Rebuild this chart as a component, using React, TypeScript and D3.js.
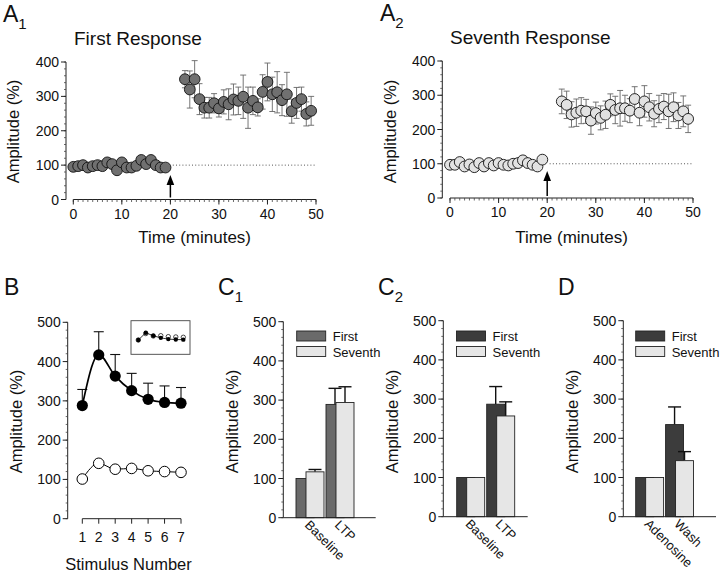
import React, { useEffect, useRef } from "react";
import * as d3 from "d3";

const FONT = "'Liberation Sans', Arial, Helvetica, sans-serif";

// Panel A1 (First Response)
const a1BaseTime = [0, 1, 2, 3, 4, 5, 6, 7, 8, 9, 10, 11, 12, 13, 14, 15, 16, 17, 18, 19];
const a1Base = [95, 97, 100, 93, 97, 100, 97, 108, 103, 85, 108, 93, 93, 98, 115, 103, 115, 100, 93, 93];
const a1BaseErr = [6, 5, 6, 5, 6, 6, 5, 7, 6, 8, 7, 6, 5, 6, 7, 6, 7, 6, 5, 5];
const a1PostTime = [23, 24, 25, 26, 27, 28, 29, 30, 31, 32, 33, 34, 35, 36, 37, 38, 39, 40, 41, 42, 43, 44, 45, 46, 47, 48, 49];
const a1Post = [350, 320, 350, 292, 267, 267, 280, 265, 284, 277, 291, 287, 299, 267, 287, 268, 313, 342, 306, 312, 289, 306, 257, 281, 292, 249, 258];
const a1PostErr = [25, 54, 54, 45, 30, 30, 28, 25, 35, 45, 45, 40, 63, 60, 40, 25, 50, 55, 50, 60, 45, 64, 35, 45, 35, 35, 42];

// Panel A2 (Seventh Response)
const a2BaseTime = [0, 1, 2, 3, 4, 5, 6, 7, 8, 9, 10, 11, 12, 13, 14, 15, 16, 17, 18, 19];
const a2Base = [97, 97, 105, 92, 98, 90, 102, 92, 102, 95, 102, 97, 95, 100, 102, 110, 102, 97, 92, 112];
const a2BaseErr = [8, 6, 6, 5, 6, 6, 7, 6, 6, 5, 6, 5, 5, 6, 6, 6, 6, 5, 6, 6];
const a2PostTime = [23, 24, 25, 26, 27, 28, 29, 30, 31, 32, 33, 34, 35, 36, 37, 38, 39, 40, 41, 42, 43, 44, 45, 46, 47, 48, 49];
const a2Post = [282, 272, 244, 249, 255, 253, 226, 248, 234, 243, 272, 257, 262, 262, 255, 289, 249, 282, 265, 246, 260, 267, 253, 265, 241, 253, 231];
const a2PostErr = [36, 40, 37, 40, 38, 35, 40, 32, 35, 40, 32, 40, 52, 38, 35, 36, 38, 46, 40, 38, 40, 38, 50, 42, 38, 45, 40];

const timeTicks = [0, 10, 20, 30, 40, 50];
const aYTicks = [0, 100, 200, 300, 400];

// Panel B
const bStim = [1, 2, 3, 4, 5, 6, 7];
const bFirst = [288, 417, 363, 326, 304, 296, 294];
const bFirstErr = [41, 59, 55, 44, 41, 42, 40];
const bSeventh = [101, 141, 126, 128, 122, 120, 118];
const bcdYTicks = [0, 100, 200, 300, 400, 500];

// Panels C1, C2, D
const c1Cats = ["Baseline", "LTP"];
const c1First = [100, 289];
const c1FirstErr = [0, 41];
const c1Seventh = [117, 294];
const c1SeventhErr = [6, 40];

const c2Cats = ["Baseline", "LTP"];
const c2First = [100, 287];
const c2FirstErr = [0, 45];
const c2Seventh = [100, 257];
const c2SeventhErr = [0, 36];

const dCats = ["Adenosine", "Wash"];
const dFirst = [100, 235];
const dFirstErr = [0, 45];
const dSeventh = [100, 143];
const dSeventhErr = [0, 23];

const legendLabels = ["First", "Seventh"];

type Sel = d3.Selection<SVGGElement, unknown, null, undefined>;

const TICK_FS = 14;

function yAxis(g: Sel, y: d3.ScaleLinear<number, number>, x: number, ticks: number[], minorStep: number) {
  const [lo, hi] = y.domain();
  g.append("line").attr("x1", x).attr("x2", x).attr("y1", y(lo)).attr("y2", y(hi))
    .attr("stroke", "#222").attr("stroke-width", 1);
  for (let v = lo; v <= hi + 1e-6; v += minorStep) {
    g.append("line").attr("x1", x - 2).attr("x2", x).attr("y1", y(v)).attr("y2", y(v))
      .attr("stroke", "#444").attr("stroke-width", 0.8);
  }
  ticks.forEach((t) => {
    g.append("line").attr("x1", x - 5).attr("x2", x).attr("y1", y(t)).attr("y2", y(t))
      .attr("stroke", "#222").attr("stroke-width", 1);
    g.append("text").attr("x", x - 7).attr("y", y(t)).attr("dy", "0.36em")
      .attr("text-anchor", "end").attr("font-size", TICK_FS).attr("font-family", FONT).attr("fill", "#111").text(t);
  });
}

function yLabel(g: Sel, x: number, cy: number, size = 16.5) {
  g.append("text").attr("transform", `translate(${x},${cy}) rotate(-90)`)
    .attr("text-anchor", "middle").attr("font-size", size).attr("font-family", FONT).attr("fill", "#111")
    .text("Amplitude (%)");
}

function panelLetter(g: Sel, x: number, y: number, letter: string, sub?: string) {
  const t = g.append("text").attr("x", x).attr("y", y).attr("font-size", 23).attr("font-family", FONT).attr("fill", "#111");
  t.append("tspan").text(letter);
  if (sub) t.append("tspan").attr("font-size", 15).attr("dy", 7).text(sub);
}

function timePanel(g: Sel, o: {
  x0: number; x1: number; yAxisX: number; yZero: number; yTop: number;
  baseT: number[]; base: number[]; baseErr: number[];
  postT: number[]; post: number[]; postErr: number[];
  fill: string; arrowTop: number; title: string; titleX: number; titleY: number;
  ylabX: number;
}) {
  const x = d3.scaleLinear().domain([0, 50]).range([o.x0, o.x1]);
  const y = d3.scaleLinear().domain([0, 400]).range([o.yZero, o.yTop]);
  yAxis(g, y, o.yAxisX, aYTicks, 20);
  g.append("line").attr("x1", x(0)).attr("x2", x(50)).attr("y1", o.yZero).attr("y2", o.yZero)
    .attr("stroke", "#222").attr("stroke-width", 1);
  d3.range(0, 51, 1).forEach((t) => {
    g.append("line").attr("x1", x(t)).attr("x2", x(t)).attr("y1", o.yZero).attr("y2", o.yZero + 2.5)
      .attr("stroke", "#444").attr("stroke-width", 0.8);
  });
  timeTicks.forEach((t) => {
    g.append("line").attr("x1", x(t)).attr("x2", x(t)).attr("y1", o.yZero).attr("y2", o.yZero + 5)
      .attr("stroke", "#222").attr("stroke-width", 1);
    g.append("text").attr("x", x(t)).attr("y", o.yZero + 19).attr("text-anchor", "middle")
      .attr("font-size", TICK_FS).attr("font-family", FONT).attr("fill", "#111").text(t);
  });
  g.append("text").attr("x", (x(0) + x(50)) / 2).attr("y", 243).attr("text-anchor", "middle")
    .attr("font-size", 17).attr("font-family", FONT).attr("fill", "#111").text("Time (minutes)");
  yLabel(g, o.ylabX, 131.5);
  g.append("text").attr("x", o.titleX).attr("y", o.titleY).attr("font-size", 19)
    .attr("font-family", FONT).attr("fill", "#111").text(o.title);
  g.append("line").attr("x1", x(20.5)).attr("x2", x(50)).attr("y1", y(100)).attr("y2", y(100))
    .attr("stroke", "#555").attr("stroke-width", 1).attr("stroke-dasharray", "1,2.2");
  const ax = x(20);
  g.append("line").attr("x1", ax).attr("x2", ax).attr("y1", o.yZero - 2).attr("y2", o.arrowTop + 6)
    .attr("stroke", "#000").attr("stroke-width", 1.5);
  g.append("path").attr("d", `M${ax - 3.8},${o.arrowTop + 10}L${ax},${o.arrowTop}L${ax + 3.8},${o.arrowTop + 10}Z`)
    .attr("fill", "#000");
  const pts = [
    ...o.baseT.map((t, i) => ({ t, v: o.base[i], e: o.baseErr[i] })),
    ...o.postT.map((t, i) => ({ t, v: o.post[i], e: o.postErr[i] })),
  ];
  pts.forEach((p) => {
    const cx = x(p.t);
    g.append("line").attr("x1", cx).attr("x2", cx).attr("y1", y(p.v - p.e)).attr("y2", y(p.v + p.e))
      .attr("stroke", "#666").attr("stroke-width", 0.9);
    [p.v - p.e, p.v + p.e].forEach((v) => {
      g.append("line").attr("x1", cx - 3).attr("x2", cx + 3).attr("y1", y(v)).attr("y2", y(v))
        .attr("stroke", "#666").attr("stroke-width", 0.9);
    });
  });
  pts.forEach((p) => {
    g.append("circle").attr("cx", x(p.t)).attr("cy", y(p.v)).attr("r", 5.4)
      .attr("fill", o.fill).attr("stroke", "#111").attr("stroke-width", 0.9);
  });
}

function barPanel(g: Sel, o: {
  yAxisX: number; yZero: number; yTop: number; bandStart: number; bandEnd: number; axisEnd: number;
  cats: string[]; first: number[]; firstErr: number[]; seventh: number[]; seventhErr: number[];
  firstFill: string; ylabX: number; legX: number;
}) {
  const y = d3.scaleLinear().domain([0, 500]).range([o.yZero, o.yTop]);
  const xb = d3.scaleBand<string>().domain(o.cats).range([o.bandStart, o.bandEnd]).paddingInner(2 / 30);
  const bw = xb.bandwidth();
  const w = bw * 18 / 28;
  const off = bw * 10 / 28;
  yAxis(g, y, o.yAxisX, bcdYTicks, 20);
  yLabel(g, o.ylabX, 421.5);
  o.cats.forEach((c, i) => {
    const x0 = xb(c)!;
    const bars = [
      { x: x0, v: o.first[i], e: o.firstErr[i], fill: o.firstFill },
      { x: x0 + off, v: o.seventh[i], e: o.seventhErr[i], fill: "#e6e6e6" },
    ];
    bars.forEach((b) => {
      const cx = b.x + w / 2;
      if (b.e > 0) {
        g.append("line").attr("x1", cx).attr("x2", cx).attr("y1", y(b.v)).attr("y2", y(b.v + b.e))
          .attr("stroke", "#111").attr("stroke-width", 1.4);
        g.append("line").attr("x1", cx - 6.5).attr("x2", cx + 6.5).attr("y1", y(b.v + b.e)).attr("y2", y(b.v + b.e))
          .attr("stroke", "#111").attr("stroke-width", 1.4);
      }
      g.append("rect").attr("x", b.x).attr("y", y(b.v)).attr("width", w).attr("height", y(0) - y(b.v))
        .attr("fill", b.fill).attr("stroke", "#222").attr("stroke-width", 0.9);
    });
    g.append("text").attr("transform", `translate(${x0 + bw / 2 - 6},${o.yZero + 8}) rotate(45)`)
      .attr("font-size", 13).attr("font-family", FONT).attr("fill", "#111").text(c);
  });
  g.append("line").attr("x1", o.yAxisX).attr("x2", o.axisEnd).attr("y1", o.yZero).attr("y2", o.yZero)
    .attr("stroke", "#222").attr("stroke-width", 1);
  const fills = [o.firstFill, "#e6e6e6"];
  legendLabels.forEach((l, i) => {
    const ly = 331 + i * 15.5;
    g.append("rect").attr("x", o.legX).attr("y", ly).attr("width", 29).attr("height", 10)
      .attr("fill", fills[i]).attr("stroke", "#222").attr("stroke-width", 0.9);
    g.append("text").attr("x", o.legX + 36).attr("y", ly + 10).attr("font-size", 13)
      .attr("font-family", FONT).attr("fill", "#111").text(l);
  });
}

export default function App() {
  const ref = useRef<SVGSVGElement>(null);
  useEffect(() => {
    const svg = d3.select(ref.current!);
    svg.selectAll("*").remove();
    const g = svg.append("g") as unknown as Sel;

    panelLetter(g, 3, 22, "A", "1");
    timePanel(g, {
      x0: 73.3, x1: 316, yAxisX: 66, yZero: 199.5, yTop: 62,
      baseT: a1BaseTime, base: a1Base, baseErr: a1BaseErr,
      postT: a1PostTime, post: a1Post, postErr: a1PostErr,
      fill: "#707070", arrowTop: 175, title: "First Response", titleX: 74, titleY: 45, ylabX: 19,
    });
    panelLetter(g, 380, 21, "A", "2");
    timePanel(g, {
      x0: 450, x1: 693, yAxisX: 442.3, yZero: 198, yTop: 61,
      baseT: a2BaseTime, base: a2Base, baseErr: a2BaseErr,
      postT: a2PostTime, post: a2Post, postErr: a2PostErr,
      fill: "#e2e2e2", arrowTop: 171, title: "Seventh Response", titleX: 450, titleY: 44, ylabX: 395.5,
    });

    // B
    panelLetter(g, 4, 295, "B");
    const bx = d3.scaleLinear().domain([1, 7]).range([82.3, 181]);
    const by = d3.scaleLinear().domain([0, 500]).range([518.7, 322.3]);
    yAxis(g, by, 67.7, bcdYTicks, 20);
    yLabel(g, 21.5, 421.5);
    g.append("line").attr("x1", bx(1)).attr("x2", bx(7)).attr("y1", by(0)).attr("y2", by(0))
      .attr("stroke", "#222").attr("stroke-width", 1);
    bStim.forEach((s) => {
      g.append("line").attr("x1", bx(s)).attr("x2", bx(s)).attr("y1", by(0)).attr("y2", by(0) + 5)
        .attr("stroke", "#222").attr("stroke-width", 1);
      g.append("text").attr("x", bx(s)).attr("y", by(0) + 23).attr("text-anchor", "middle")
        .attr("font-size", TICK_FS).attr("font-family", FONT).attr("fill", "#111").text(s);
    });
    g.append("text").attr("x", 128.5).attr("y", 570).attr("text-anchor", "middle")
      .attr("font-size", 16.5).attr("font-family", FONT).attr("fill", "#111").text("Stimulus Number");
    bStim.forEach((s, i) => {
      const top = by(bFirst[i] + bFirstErr[i]);
      g.append("line").attr("x1", bx(s)).attr("x2", bx(s)).attr("y1", by(bFirst[i])).attr("y2", top)
        .attr("stroke", "#111").attr("stroke-width", 1.1);
      g.append("line").attr("x1", bx(s) - 5).attr("x2", bx(s) + 5).attr("y1", top).attr("y2", top)
        .attr("stroke", "#111").attr("stroke-width", 1.1);
    });
    const line = d3.line<number>().x((_, i) => bx(bStim[i])).y((d) => by(d)).curve(d3.curveMonotoneX);
    g.append("path").attr("d", line(bFirst)!).attr("fill", "none").attr("stroke", "#000").attr("stroke-width", 1.7);
    g.append("path").attr("d", line(bSeventh)!).attr("fill", "none").attr("stroke", "#000").attr("stroke-width", 1);
    bStim.forEach((s, i) => {
      g.append("circle").attr("cx", bx(s)).attr("cy", by(bFirst[i])).attr("r", 5.6).attr("fill", "#000");
      g.append("circle").attr("cx", bx(s)).attr("cy", by(bSeventh[i])).attr("r", 5.3)
        .attr("fill", "#fff").attr("stroke", "#000").attr("stroke-width", 1);
    });
    // inset: each series normalised to its first stimulus
    g.append("rect").attr("x", 131).attr("y", 320.7).attr("width", 59).attr("height", 33.6)
      .attr("fill", "none").attr("stroke", "#444").attr("stroke-width", 0.9);
    const ix = d3.scaleLinear().domain([1, 7]).range([138.3, 183.3]);
    const iy = d3.scaleLinear().domain([1, 1.5]).range([340, 331.9]);
    bStim.forEach((s, i) => {
      g.append("circle").attr("cx", ix(s)).attr("cy", iy(bSeventh[i] / bSeventh[0])).attr("r", 2.2)
        .attr("fill", "#fff").attr("stroke", "#000").attr("stroke-width", 0.7);
    });
    const iline = d3.line<number>().x((_, i) => ix(bStim[i])).y((d) => iy(d / bFirst[0]));
    g.append("path").attr("d", iline(bFirst)!).attr("fill", "none").attr("stroke", "#000").attr("stroke-width", 0.8);
    bStim.forEach((s, i) => {
      g.append("circle").attr("cx", ix(s)).attr("cy", iy(bFirst[i] / bFirst[0])).attr("r", 2.2).attr("fill", "#000");
    });

    panelLetter(g, 218, 295, "C", "1");
    barPanel(g, {
      yAxisX: 283.3, yZero: 517.7, yTop: 321.7, bandStart: 296, bandEnd: 354, axisEnd: 375.7,
      cats: c1Cats, first: c1First, firstErr: c1FirstErr, seventh: c1Seventh, seventhErr: c1SeventhErr,
      firstFill: "#6a6a6a", ylabX: 238, legX: 296.7,
    });
    panelLetter(g, 378, 295, "C", "2");
    barPanel(g, {
      yAxisX: 443.3, yZero: 516.7, yTop: 320.7, bandStart: 456.7, bandEnd: 514.7, axisEnd: 527.7,
      cats: c2Cats, first: c2First, firstErr: c2FirstErr, seventh: c2Seventh, seventhErr: c2SeventhErr,
      firstFill: "#3c3c3c", ylabX: 398, legX: 456.5,
    });
    panelLetter(g, 558, 295, "D");
    barPanel(g, {
      yAxisX: 623.3, yZero: 516.7, yTop: 320.7, bandStart: 635.7, bandEnd: 693.5, axisEnd: 716,
      cats: dCats, first: dFirst, firstErr: dFirstErr, seventh: dSeventh, seventhErr: dSeventhErr,
      firstFill: "#3c3c3c", ylabX: 578, legX: 635.7,
    });
  }, []);
  return (
    <svg ref={ref} width={720} height={573}
      style={{ position: "absolute", left: 0, top: 0, background: "#fff" }} />
  );
}
